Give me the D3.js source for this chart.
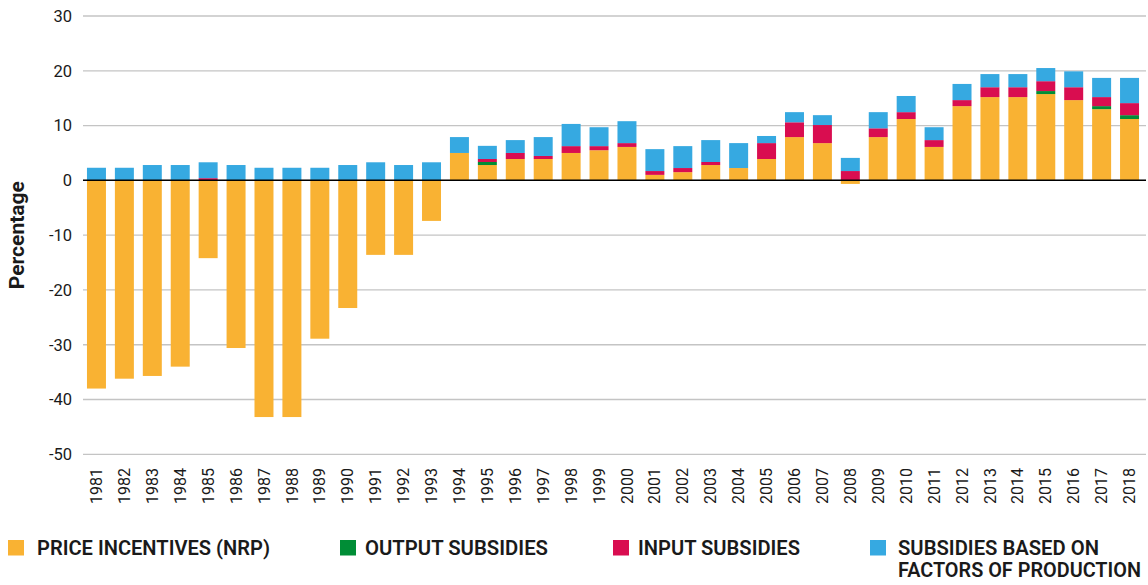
<!DOCTYPE html>
<html><head><meta charset="utf-8">
<script src="https://cdn.jsdelivr.net/npm/d3@7"></script>
<style>body{margin:0;background:#fff;}svg{display:block;font-family:Roboto, "Noto Sans", sans-serif;}</style>
</head><body><svg id="c" width="1148" height="585"></svg>
<script>
const years = ["1981","1982","1983","1984","1985","1986","1987","1988","1989","1990","1991","1992","1993","1994","1995","1996","1997","1998","1999","2000","2001","2002","2003","2004","2005","2006","2007","2008","2009","2010","2011","2012","2013","2014","2015","2016","2017","2018"];
const priceIncentives = [-38.0,-36.2,-35.7,-34.0,-14.2,-30.6,-43.2,-43.2,-28.9,-23.3,-13.6,-13.6,-7.4,5.0,2.8,3.9,3.9,5.0,5.5,6.1,1.0,1.5,2.8,2.25,3.9,7.9,6.8,-0.65,7.9,11.2,6.1,13.55,15.2,15.2,15.75,14.65,13.0,11.2];
const outputSubsidies = [0,0,0,0,0,0,0,0,0,0,0,0,0,0,0.55,0,0,0,0,0,0,0,0,0,0,0,0,0,0,0,0,0,0,0,0.55,0,0.55,0.7];
const inputSubsidies = [0,0,0,0,0.4,0,0,0,0,0,0,0,0,0,0.55,1.1,0.55,1.25,0.75,0.7,0.7,0.75,0.55,0,2.9,2.7,3.3,1.7,1.6,1.25,1.25,1.1,1.8,1.8,1.8,2.35,1.65,2.2];
const factorSubsidies = [2.3,2.3,2.8,2.8,2.9,2.8,2.3,2.3,2.3,2.8,3.3,2.8,3.3,2.9,2.4,2.35,3.45,4.05,3.45,4.0,4.0,4.0,4.0,4.55,1.3,1.85,1.8,2.4,2.95,2.95,2.35,2.95,2.4,2.4,2.4,2.9,3.5,4.6];
const yTicks = [-50,-40,-30,-20,-10,0,10,20,30];
const seriesKeys = ["price","output","input","factor"];
const seriesColors = ["#F9B233","#008D36","#D90D50","#36A9E1"];
const legendLabels = [["PRICE INCENTIVES (NRP)"],["OUTPUT SUBSIDIES"],["INPUT SUBSIDIES"],["SUBSIDIES BASED ON","FACTORS OF PRODUCTION"]];
const legendWidths = [[233],[183],[162],[201,243]];

const rows = years.map((y,i)=>({year:y, price:priceIncentives[i], output:outputSubsidies[i], input:inputSubsidies[i], factor:factorSubsidies[i]}));
const svg = d3.select("#c");
const x = d3.scaleBand().domain(years).range([82.5,1143.5]).paddingInner(0.32).paddingOuter(0.16);
const y = d3.scaleLinear().domain([-50,30]).range([454.3,16]);

// grid
svg.append("g").selectAll("line").data(yTicks).join("line")
  .attr("x1",83).attr("x2",1146).attr("y1",d=>y(d)).attr("y2",d=>y(d))
  .attr("stroke","#c4c4c4").attr("stroke-width",1.3);

// y tick labels
svg.append("g").selectAll("text").data(yTicks).join("text")
  .attr("x",72).attr("y",d=>y(d)).attr("dy","0.35em").attr("text-anchor","end")
  .attr("font-size",16.5).attr("fill","#1a1a1a").text(d=>d);

// y title
svg.append("text").attr("transform",`translate(24,${(y(30)+y(-50))/2}) rotate(-90)`)
  .attr("text-anchor","middle").attr("font-size",21).attr("font-weight",700).attr("fill","#1a1a1a").text("Percentage");

// stacked bars
const stack = d3.stack().keys(seriesKeys).offset(d3.stackOffsetDiverging);
const series = stack(rows);
svg.append("g").selectAll("g").data(series).join("g")
  .attr("fill",(d,i)=>seriesColors[i])
  .selectAll("rect").data(d=>d).join("rect")
  .attr("x",d=>x(d.data.year)).attr("width",x.bandwidth())
  .attr("y",d=>y(Math.max(d[0],d[1]))).attr("height",d=>Math.abs(y(d[0])-y(d[1])));

// zero line
svg.append("line").attr("x1",83).attr("x2",1146).attr("y1",y(0)).attr("y2",y(0))
  .attr("stroke","#000").attr("stroke-width",1.5);

// x labels
svg.append("g").selectAll("text").data(years).join("text")
  .attr("transform",d=>`translate(${x(d)+x.bandwidth()/2},468) rotate(-90)`)
  .attr("text-anchor","end").attr("dy","0.35em").attr("font-size",16).attr("fill","#1a1a1a").text(d=>d);

// legend
const legX = [8,340,613,870];
const lg = svg.append("g").selectAll("g").data(legendLabels).join("g")
  .attr("transform",(d,i)=>`translate(${legX[i]},0)`);
lg.append("rect").attr("x",0).attr("y",540).attr("width",16).attr("height",15.5).attr("fill",(d,i)=>seriesColors[i]);
lg.each(function(lines,i){
  d3.select(this).selectAll("text").data(lines).join("text")
    .attr("x",i===3?28:(i===0?29:25)).attr("y",(d,j)=>555+j*22)
    .attr("font-size",20).attr("font-weight",600).attr("fill","#1a1a1a")
    .attr("textLength",(d,j)=>legendWidths[i][j]).attr("lengthAdjust","spacingAndGlyphs")
    .text(d=>d);
});
</script></body></html>
